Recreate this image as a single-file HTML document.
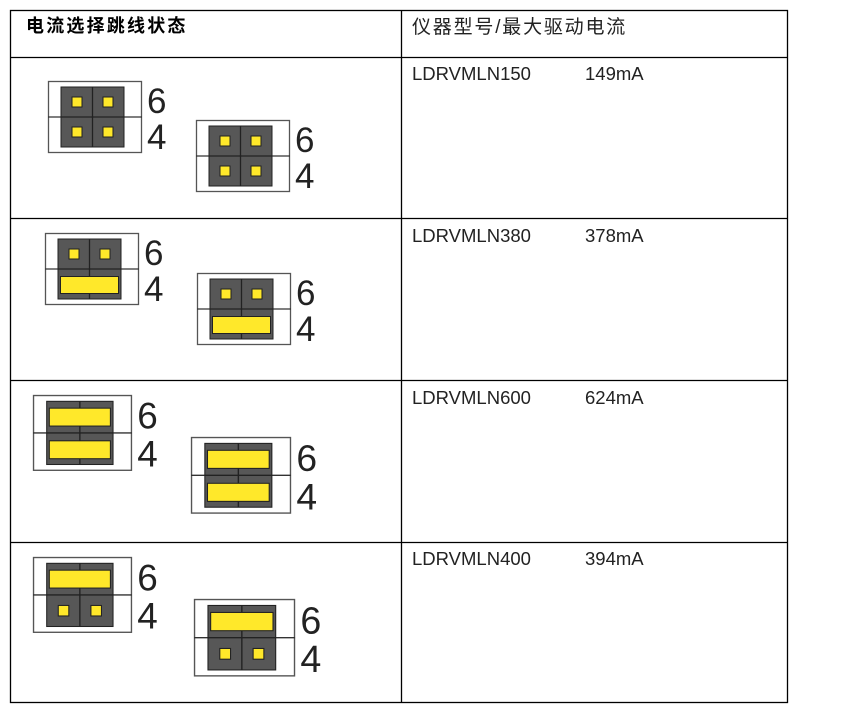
<!DOCTYPE html>
<html><head><meta charset="utf-8"><style>
html,body{margin:0;padding:0;background:#fff;}
svg{display:block;}
</style></head><body>
<svg width="857" height="705" viewBox="0 0 857 705" xmlns="http://www.w3.org/2000/svg">
<defs>
<g id="base">
<rect x="0.5" y="0.5" width="93" height="71" fill="#fff" stroke="#555" stroke-width="1.3"/>
<line x1="0" y1="36" x2="94" y2="36" stroke="#333" stroke-width="1.3"/>
<rect x="13" y="6" width="63" height="60" fill="#575757" stroke="#222" stroke-width="1"/>
<line x1="44.5" y1="6" x2="44.5" y2="66" stroke="#222" stroke-width="1.3"/>
<line x1="13" y1="36" x2="76" y2="36" stroke="#222" stroke-width="1.3"/>
<text x="99" y="32" font-family="Liberation Sans, sans-serif" font-size="35" fill="#222">6</text>
<text x="99" y="68" font-family="Liberation Sans, sans-serif" font-size="35" fill="#222">4</text>
</g>
<g id="pt"><rect x="24" y="16" width="10" height="10" fill="#ffe82a" stroke="#222" stroke-width="1"/><rect x="55" y="16" width="10" height="10" fill="#ffe82a" stroke="#222" stroke-width="1"/></g>
<g id="pb"><rect x="24" y="46" width="10" height="10" fill="#ffe82a" stroke="#222" stroke-width="1"/><rect x="55" y="46" width="10" height="10" fill="#ffe82a" stroke="#222" stroke-width="1"/></g>
<g id="ct"><rect x="15.5" y="12.5" width="58" height="17" fill="#ffe82a" stroke="#222" stroke-width="1"/></g>
<g id="cb"><rect x="15.5" y="43.5" width="58" height="17" fill="#ffe82a" stroke="#222" stroke-width="1"/></g>
</defs>
<g stroke="#000" stroke-width="1.3" fill="none">
<rect x="10.5" y="10.5" width="777" height="692"/>
<line x1="401.5" y1="10" x2="401.5" y2="703"/>
<line x1="10" y1="57.5" x2="788" y2="57.5"/>
<line x1="10" y1="218.5" x2="788" y2="218.5"/>
<line x1="10" y1="380.5" x2="788" y2="380.5"/>
<line x1="10" y1="542.5" x2="788" y2="542.5"/>
</g>
<text x="26" y="32" font-family="Liberation Sans, Noto Sans CJK SC, sans-serif" font-size="18" font-weight="bold" letter-spacing="2.2" fill="#000">电流选择跳线状态</text>
<text x="412" y="33" font-family="Liberation Sans, Noto Sans CJK SC, sans-serif" font-size="19" letter-spacing="1.8" fill="#222">仪器型号/最大驱动电流</text>
<g font-family="Liberation Sans, sans-serif" font-size="18.5" fill="#222">
<text x="412" y="80">LDRVMLN150</text><text x="585" y="80">149mA</text>
<text x="412" y="242">LDRVMLN380</text><text x="585" y="242">378mA</text>
<text x="412" y="404">LDRVMLN600</text><text x="585" y="404">624mA</text>
<text x="412" y="565">LDRVMLN400</text><text x="585" y="565">394mA</text>
</g>
<g transform="translate(48,81)"><use href="#base"/><use href="#pt"/><use href="#pb"/></g>
<g transform="translate(196,120)"><use href="#base"/><use href="#pt"/><use href="#pb"/></g>
<g transform="translate(45,233)"><use href="#base"/><use href="#pt"/><use href="#cb"/></g>
<g transform="translate(197,273)"><use href="#base"/><use href="#pt"/><use href="#cb"/></g>
<g transform="translate(33,395) scale(1.053)"><use href="#base"/><use href="#ct"/><use href="#cb"/></g>
<g transform="translate(191,437) scale(1.064)"><use href="#base"/><use href="#ct"/><use href="#cb"/></g>
<g transform="translate(33,557) scale(1.053)"><use href="#base"/><use href="#ct"/><use href="#pb"/></g>
<g transform="translate(194,599) scale(1.075)"><use href="#base"/><use href="#ct"/><use href="#pb"/></g>
</svg>
</body></html>
